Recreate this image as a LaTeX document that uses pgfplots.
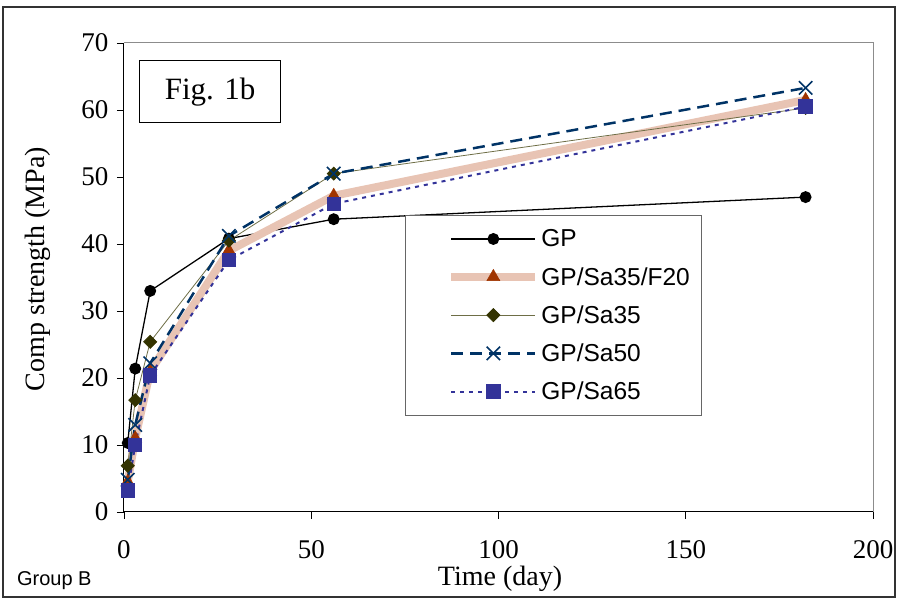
\documentclass[border=0pt]{standalone}
\usepackage{pgfplots}
\pgfplotsset{compat=1.18}
\usepackage{fontspec}
\setmainfont{Liberation Serif}
\newfontfamily\arialfont{Liberation Sans}
\definecolor{pinkl}{RGB}{232,196,180}
\definecolor{triC}{RGB}{160,52,0}
\definecolor{oliveM}{RGB}{51,51,0}
\definecolor{oliveL}{RGB}{110,110,70}
\definecolor{navyC}{RGB}{0,51,102}
\definecolor{blueC}{RGB}{51,51,153}
\begin{document}
\begin{tikzpicture}
\begin{axis}[
  name=ax,
  scale only axis, width=749bp, height=469bp,
  xmin=0, xmax=200, ymin=0, ymax=70,
  xtick={0,50,100,150,200}, ytick={0,10,...,70},
  axis lines*=left,
  axis line style={black, line width=1pt},
  tick align=outside, major tick length=7bp,
  tick style={black, line width=0.8pt},
  /pgf/number format/assume math mode=true,
  tick label style={font=\fontsize{27bp}{29bp}\selectfont},
  yticklabel style={xshift=-5bp},
  xticklabel style={yshift=-18bp},
  xlabel={Time (day)}, ylabel={Comp strength (MPa)},
  label style={font=\fontsize{28bp}{30bp}\selectfont},
  xlabel style={at={(axis description cs:0.502,-0.142)}, anchor=center},
  ylabel style={at={(axis description cs:-0.115,0.518)}, anchor=center},
  clip=false,
  legend style={at={(axis cs:75,44.3)}, anchor=north west,
    draw=black!60, line width=1pt,
    font=\arialfont\fontsize{24.5bp}{26bp}\selectfont,
    inner xsep=10bp, inner ysep=12bp, row sep=15bp,
    cells={anchor=west},
    /tikz/every odd column/.style={column sep=0bp}},
  legend image code/.code={\path (0bp,0bp); \draw[mark repeat=2,mark phase=2] plot coordinates {(32bp,0bp) (74bp,0bp) (116bp,0bp)};},
]
\draw[black!45, line width=1pt] (rel axis cs:0,1) -- (rel axis cs:1,1) -- (rel axis cs:1,0);
\addplot[black, line width=1.3pt, mark=*, mark size=5.3bp, mark options={solid, fill=black}] coordinates {
(1,10.3) (3,21.4) (7,33.0) (28,40.8) (56,43.7) (182,47.0)};
\addlegendentry{GP}
\addplot[pinkl, line width=8bp, mark=triangle*, mark size=7.5bp, mark options={solid, triC, fill=triC, line width=0.5pt}] coordinates {
(1,4.5) (3,11.0) (7,21.0) (28,39.0) (56,47.2) (182,61.5)};
\addlegendentry{GP/Sa35/F20}
\addplot[oliveL, line width=0.8pt, mark=square*, mark size=4.6bp, mark options={solid, rotate=45, oliveM, fill=oliveM}] coordinates {
(1,6.9) (3,16.7) (7,25.4) (28,40.5) (56,50.5) (182,60.3)};
\addlegendentry{GP/Sa35}
\addplot[navyC, line width=2.5pt, dash pattern=on 12bp off 7bp, mark=x, mark size=9.5bp, mark options={solid, navyC, line width=1.6pt}] coordinates {
(1,4.8) (3,13.0) (7,22.2) (28,41.2) (56,50.5) (182,63.3)};
\addlegendentry{GP/Sa50}
\addplot[blueC, line width=2pt, dash pattern=on 4bp off 5bp, mark=square*, mark size=6.2bp, mark options={solid, blueC, fill=blueC}] coordinates {
(1,3.2) (3,10.0) (7,20.4) (28,37.6) (56,46.0) (182,60.5)};
\addlegendentry{GP/Sa65}
\node[draw, line width=1.2pt, anchor=north west, minimum width=141bp, minimum height=62bp, inner sep=0pt,
  font=\fontsize{31bp}{33bp}\selectfont] at (axis cs:4.0,67.46) {Fig. 1b};
\node[anchor=base west, inner sep=0pt, font=\arialfont\fontsize{20bp}{22bp}\selectfont] at (axis cs:-28.6,-11.0) {Group B};
\end{axis}
\draw[black!80, line width=1.2pt] ([shift={(-121bp,-85bp)}]ax.south west) rectangle ([shift={(22bp,36bp)}]ax.north east);
\useasboundingbox ([shift={(-124bp,-89bp)}]ax.south west) rectangle ([shift={(25bp,43bp)}]ax.north east);
\end{tikzpicture}
\end{document}
